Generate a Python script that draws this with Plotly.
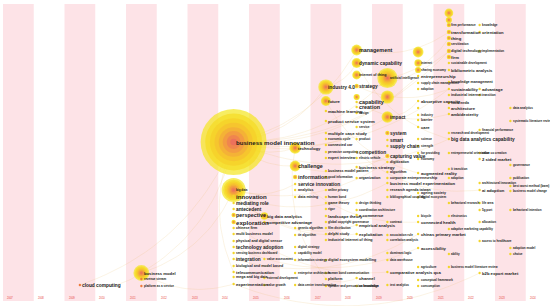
import math
import plotly.graph_objects as go

# ---------------- data ----------------
years = list(range(2007, 2025))
year_labels = [str(y) for y in years]

# each year column: terms, layout row (vertical slot), frequency count, label weight (1..6)
t2009 = ["cloud computing"]
r2009 = [285]
c2009 = [0]
w2009 = [4]

t2011 = ["business model", "revenue stream", "platform as a service"]
r2011 = [273, 279, 286]
c2011 = [13, 0, 0]
w2011 = [3, 1, 1]

t2014 = ["business model innovation", "big data", "innovation", "mediating role", "antecedent",
         "perspective", "exploration", "chinese firm", "multi business model",
         "physical and digital sensor", "technology adoption", "sensing business dashboard",
         "integration", "biological and model based", "telecommunication", "mega and big data",
         "experimentation"]
r2014 = [142, 190, 196, 203, 209, 215, 222, 228, 234, 241, 247, 253, 259, 266, 272, 277, 284]
c2014 = [225, 30, 0, 0, 0, 1, 1, 0, 0, 0, 0, 0, 0, 0, 0, 0, 0]
w2014 = [6, 1, 6, 4, 4, 5, 6, 2, 2, 2, 4, 1, 4, 2, 3, 2, 3]

t2015 = ["big data analytics", "competitive advantage", "value assessment",
         "external development", "value growth"]
r2015 = [216, 222, 259, 278, 285]
c2015 = [3, 0, 0, 0, 0]
w2015 = [3, 3, 1, 1, 1]

t2016 = ["technology", "challenge", "information", "service innovation", "analytics",
         "data mining", "genetic algorithm", "tie algorithm", "digital strategy",
         "capability model", "information strategy", "enterprise architecture",
         "data center transformation"]
r2016 = [148, 166, 177, 184, 190, 197, 228, 235, 247, 253, 260, 273, 285]
c2016 = [7, 6, 1, 0, 0, 0, 0, 0, 0, 0, 0, 0, 0]
w2016 = [3, 5, 5, 4, 2, 2, 1, 1, 1, 1, 1, 1, 1]

t2017 = ["industry 4.0", "future", "machine learning", "product service system",
         "multiple case study", "economic cycle", "connected car", "pervasive computing",
         "expert interview", "business model pattern", "good information", "online privacy",
         "human bond", "game theory", "rigor", "landscape theory",
         "global copyright governance", "film distribution", "delphi study",
         "industrial internet of thing", "digital ecosystem modelling",
         "human bond communication", "platform", "speaker and persuasion knowledge"]
r2017 = [87, 101, 111, 121, 133, 139, 145, 152, 158, 171, 177, 190, 197, 203, 209, 216,
         222, 228, 234, 240, 260, 273, 279, 286]
c2017 = [12, 5, 0, 0, 0, 0, 0, 0, 0, 0, 0, 0, 0, 0, 0, 0, 0, 0, 0, 0, 0, 0, 0, 0]
w2017 = [4, 3, 3, 3, 3, 1, 2, 1, 2, 2, 1, 1, 1, 2, 1, 3, 1, 1, 2, 2, 2, 1, 2, 1]

t2018 = ["management", "dynamic capability", "internet of thing", "strategy", "",
         "capability", "creation", "design", "service", "product", "competition",
         "electric vehicle", "business strategy", "organization", "design thinking",
         "coordination architecture", "e commerce", "empirical analysis", "exploitation",
         "channel", "co innovation"]
r2018 = [50, 63, 75, 86, 97, 102, 107, 113, 127, 139, 152, 158, 167, 178, 203, 210, 215,
         225, 234, 278, 286]
c2018 = [6, 5, 4, 1, 2, 0, 0, 0, 0, 0, 0, 0, 0, 0, 0, 0, 0, 0, 0, 0, 0]
w2018 = [5, 4, 2, 4, 1, 5, 5, 1, 1, 1, 4, 1, 3, 2, 1, 1, 3, 3, 3, 3, 1]

t2019 = ["artificial intelligence", "", "impact", "system", "smart", "supply chain",
         "capturing value", "digitization", "algorithm", "corporate entrepreneurship",
         "business model experimentation", "research agenda taiwan",
         "bibliographical coupling", "contract", "association rule", "correlation analysis",
         "dominant logic", "data warehouse", "comparative analysis qca", "text analytics"]
r2019 = [78, 97, 117, 133, 140, 146, 156, 162, 172, 178, 183, 190, 197, 222, 235, 240,
         253, 260, 272, 285]
c2019 = [21, 9, 7, 1, 0, 0, 1, 0, 0, 0, 0, 0, 0, 0, 0, 0, 0, 0, 0, 0]
w2019 = [1, 1, 4, 4, 4, 4, 4, 2, 2, 2, 3, 2, 1, 1, 1, 1, 1, 1, 3, 1]

t2020 = ["", "internet", "sharing economy", "entrepreneurship", "supply chain management",
         "adoption", "absorptive capacity", "", "industry", "barrier", "care", "science",
         "strength", "for providing", "economy", "augmented reality", "ageing society",
         "digital ecosystem", "bicycle", "connected health", "chinas primary market",
         "accessibility", "agriculture", "conceptual framework", "consumption"]
r2020 = [52, 63, 70, 76, 83, 89, 101, 108, 115, 120, 127, 139, 146, 153, 159, 173, 193,
         197, 216, 222, 234, 248, 267, 280, 286]
c2020 = [6, 3, 2, 0, 0, 0, 0, 0, 0, 0, 0, 0, 0, 0, 0, 0, 0, 0, 0, 0, 0, 0, 0, 0, 0]
w2020 = [1, 1, 1, 3, 1, 1, 3, 1, 1, 2, 3, 1, 1, 1, 1, 3, 2, 1, 1, 3, 3, 3, 1, 1, 1]

t2021 = ["", "", "firm performance", "transformation", "thing", "servitization",
         "digital technology", "firm", "sustainable development", "bibliometric analysis",
         "knowledge management", "sustainability", "industrial internet", "social media",
         "architecture", "ambidexterity", "research and development",
         "big data analytics capability", "entrepreneurial orientation", "it transition",
         "adoption", "behavioral research", "electronics", "adaptive marketing capability",
         "ability", "business model literature review"]
r2021 = [13, 20, 25, 32, 38, 44, 51, 57, 63, 70, 82, 89, 95, 103, 108, 114, 133, 139, 153,
         169, 178, 203, 216, 229, 254, 267]
c2021 = [4, 2, 1, 1, 1, 1, 1, 1, 0, 0, 0, 0, 0, 0, 0, 0, 0, 0, 0, 0, 0, 0, 0, 0, 0, 0]
w2021 = [1, 1, 1, 3, 3, 1, 2, 3, 1, 3, 2, 3, 2, 1, 3, 3, 1, 4, 1, 1, 1, 1, 1, 1, 1, 1]

t2022 = ["knowledge", "orientation", "implementation", "advantage", "transition",
         "financial performance", "value co creation", "2 sided market",
         "architectural innovation", "ai adoption", "life area", "5g port", "allocation",
         "access to healthcare", "b2b export market"]
r2022 = [25, 32, 51, 89, 95, 130, 153, 159, 183, 190, 203, 210, 222, 241, 273]
c2022 = [0] * 15
w2022 = [1, 3, 1, 3, 1, 1, 1, 3, 1, 3, 1, 1, 1, 1, 3]

t2023 = ["data analytics", "systematic literature review", "governance", "publication",
         "best worst method (bwm)", "business model change", "behavioral intention",
         "adoption model", "choice"]
r2023 = [108, 121, 165, 178, 186, 191, 210, 248, 254]
c2023 = [0] * 9
w2023 = [1] * 9

# co-occurrence links (faint background curves)
link_src = ["cloud computing", "cloud computing", "business model", "business model",
            "business model", "business model innovation", "business model innovation",
            "business model innovation", "business model innovation", "business model innovation",
            "business model innovation", "business model innovation", "business model innovation",
            "business model innovation", "business model innovation", "business model innovation",
            "big data", "big data", "big data", "innovation", "innovation", "technology",
            "challenge", "industry 4.0", "industry 4.0", "management", "strategy",
            "artificial intelligence", "impact", "dynamic capability", "capability",
            "future", "big data analytics", "information", "technology adoption",
            "exploration", "integration", "experimentation", "competition", "platform"]
link_dst = ["business model innovation", "business model", "business model innovation",
            "big data", "experimentation", "technology", "challenge", "industry 4.0",
            "management", "artificial intelligence", "impact", "entrepreneurship",
            "digital technology", "sustainability", "big data analytics capability",
            "telecommunication", "big data analytics", "service innovation", "digitization",
            "exploitation", "business model experimentation", "platform", "capturing value",
            "dynamic capability", "digital technology", "transformation", "sustainability",
            "thing", "absorptive capacity", "big data analytics capability", "ambidexterity",
            "augmented reality", "empirical analysis", "connected health", "accessibility",
            "comparative analysis qca", "chinas primary market", "b2b export market",
            "ai adoption", "channel"]

groups = [
    (2009, t2009, r2009, c2009, w2009),
    (2011, t2011, r2011, c2011, w2011),
    (2014, t2014, r2014, c2014, w2014),
    (2015, t2015, r2015, c2015, w2015),
    (2016, t2016, r2016, c2016, w2016),
    (2017, t2017, r2017, c2017, w2017),
    (2018, t2018, r2018, c2018, w2018),
    (2019, t2019, r2019, c2019, w2019),
    (2020, t2020, r2020, c2020, w2020),
    (2021, t2021, r2021, c2021, w2021),
    (2022, t2022, r2022, c2022, w2022),
    (2023, t2023, r2023, c2023, w2023),
]

# ---------------- style ----------------
W, H = 550, 306
COL_W = 30.75
X0_PX = 3.0
XMIN = 2006.5 - X0_PX / COL_W
XMAX = 2006.5 + (W - X0_PX) / COL_W
FONT_SIZES = {1: 3.0, 2: 3.6, 3: 4.2, 4: 4.8, 5: 5.4, 6: 6.1}
RING_FRAC = [1.0, 0.86, 0.72, 0.58, 0.45, 0.33, 0.21, 0.1]
RING_COL = ["#f4e61e", "#f5dc22", "#f6cf28", "#f6bf30", "#f4a93a", "#f29346", "#ee7c54", "#e96862"]
BAND = "#fde3e7"
LINK = "rgba(232,185,90,0.28)"

fig = go.Figure()

shapes = []
annotations = []
for yr, lab in zip(years, year_labels):
    if (yr - years[0]) % 2 == 0:
        shapes.append(dict(type="rect", xref="x", yref="y", x0=yr - 0.5, x1=yr + 0.5,
                           y0=4, y1=301, fillcolor=BAND, line_width=0, layer="below"))
    annotations.append(dict(x=yr - 0.5, y=298, xref="x", yref="y", text=lab,
                            showarrow=False, xanchor="left", yanchor="middle", xshift=2,
                            font=dict(size=2.6, color="#e8453c", family="Liberation Sans")))

pos = {}
big_x, big_y, big_r = [], [], []
dot_x, dot_y, dot_c = [], [], []
for yr, terms, rows, counts, weights in groups:
    for t, r, c, w in zip(terms, rows, counts, weights):
        if t:
            pos[t] = (yr, r)
        if c > 0:
            big_x.append(yr)
            big_y.append(r)
            big_r.append(2.2 * math.sqrt(c))
        else:
            dot_x.append(yr)
            dot_y.append(r)
            dot_c.append("#ef7a3c" if yr < 2012 else "#f2d52a")
        if t:
            annotations.append(dict(x=yr, y=r, xref="x", yref="y", text=t, showarrow=False,
                                    xanchor="left", yanchor="middle", xshift=0.5,
                                    font=dict(size=FONT_SIZES[w], color="#1b1b1b",
                                              family="Liberation Sans", weight="bold")))

# faint curved links (quadratic curves computed in screen space)
lx, ly = [], []
for s, d in zip(link_src, link_dst):
    (xa, ya), (xb, yb) = pos[s], pos[d]
    pa = (X0_PX + (xa - 2006.5) * COL_W, ya)
    pb = (X0_PX + (xb - 2006.5) * COL_W, yb)
    mx, my = (pa[0] + pb[0]) / 2, (pa[1] + pb[1]) / 2
    dx, dy = pb[0] - pa[0], pb[1] - pa[1]
    L = math.hypot(dx, dy) or 1
    k = 0.22 * L
    cx, cy = mx - dy / L * k, my + dx / L * k
    for i in range(25):
        t = i / 24
        px = (1 - t) ** 2 * pa[0] + 2 * (1 - t) * t * cx + t * t * pb[0]
        py = (1 - t) ** 2 * pa[1] + 2 * (1 - t) * t * cy + t * t * pb[1]
        lx.append(2006.5 + (px - X0_PX) / COL_W)
        ly.append(py)
    lx.append(None)
    ly.append(None)

fig.add_trace(go.Scatter(x=lx, y=ly, mode="lines", hoverinfo="skip", showlegend=False,
                         line=dict(color=LINK, width=0.6)))

for frac, col in zip(RING_FRAC, RING_COL):
    fig.add_trace(go.Scatter(
        x=big_x, y=big_y, mode="markers", hoverinfo="skip", showlegend=False,
        marker=dict(size=[2 * r * frac for r in big_r], color=col, line_width=0)))

fig.add_trace(go.Scatter(
    x=dot_x, y=dot_y, mode="markers", hoverinfo="skip", showlegend=False,
    marker=dict(size=2.4, color=dot_c, line_width=0)))

fig.update_layout(
    width=W, height=H, margin=dict(l=0, r=0, t=0, b=0),
    paper_bgcolor="white", plot_bgcolor="white",
    xaxis=dict(range=[XMIN, XMAX], visible=False, fixedrange=True),
    yaxis=dict(range=[H, 0], visible=False, fixedrange=True),
    shapes=shapes, annotations=annotations, showlegend=False,
)

fig.write_html("out.html", config={"displayModeBar": False},
               post_script="document.body.style.margin='0';document.body.style.overflow='hidden';")
